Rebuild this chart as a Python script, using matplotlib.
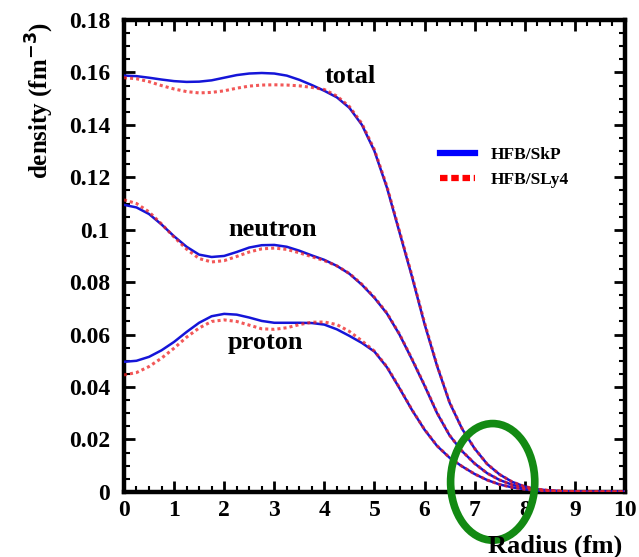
import numpy as np
import matplotlib
matplotlib.use("Agg")
import matplotlib.pyplot as plt
from matplotlib.lines import Line2D
from matplotlib.patches import Ellipse
from matplotlib.ticker import MultipleLocator

plt.rcParams['font.family'] = ['Liberation Serif', 'DejaVu Serif']
plt.rcParams['font.weight'] = 'bold'
plt.rcParams['mathtext.default'] = 'bf'

# radius grid (fm), values every 0.25 fm
radius = np.arange(0, 10.01, 0.25)

total_skp = [0.1588, 0.1586, 0.1580, 0.1573, 0.1567, 0.1564, 0.1565, 0.1570, 0.1580, 0.1590,
             0.1596, 0.1598, 0.1596, 0.1588, 0.1572, 0.1552, 0.1530, 0.1505, 0.1465, 0.1400,
             0.1300, 0.1160, 0.0990, 0.0820, 0.0640, 0.0480, 0.0340, 0.0240, 0.0165, 0.0106,
             0.0066, 0.0038, 0.0020, 0.0010, 0.0005, 0.0002, 0.0001, 0.0, 0.0, 0.0, 0.0]
total_sly4 = [0.1580, 0.1576, 0.1565, 0.1550, 0.1537, 0.1527, 0.1522, 0.1524, 0.1530, 0.1540,
              0.1548, 0.1552, 0.1553, 0.1552, 0.1549, 0.1543, 0.1535, 0.1510, 0.1470, 0.1405,
              0.1305, 0.1165, 0.0995, 0.0825, 0.0645, 0.0483, 0.0342, 0.0241, 0.0165, 0.0106,
              0.0066, 0.0038, 0.0020, 0.0010, 0.0005, 0.0002, 0.0001, 0.0, 0.0, 0.0, 0.0]

neutron_skp = [0.1095, 0.1085, 0.1060, 0.1020, 0.0975, 0.0935, 0.0905, 0.0896, 0.0900, 0.0915,
               0.0932, 0.0941, 0.0942, 0.0935, 0.0920, 0.0902, 0.0885, 0.0862, 0.0832, 0.0790,
               0.0740, 0.0680, 0.0600, 0.0505, 0.0405, 0.0300, 0.0215, 0.0155, 0.0108, 0.0071,
               0.0045, 0.0027, 0.0015, 0.0008, 0.0004, 0.0002, 0.0001, 0.0, 0.0, 0.0, 0.0]
neutron_sly4 = [0.1114, 0.1100, 0.1068, 0.1022, 0.0972, 0.0926, 0.0890, 0.0877, 0.0882, 0.0898,
                0.0915, 0.0927, 0.0930, 0.0925, 0.0912, 0.0897, 0.0882, 0.0862, 0.0833, 0.0792,
                0.0742, 0.0682, 0.0602, 0.0507, 0.0407, 0.0302, 0.0216, 0.0155, 0.0108, 0.0071,
                0.0045, 0.0027, 0.0015, 0.0008, 0.0004, 0.0002, 0.0001, 0.0, 0.0, 0.0, 0.0]

proton_skp = [0.0496, 0.0500, 0.0515, 0.0540, 0.0572, 0.0610, 0.0645, 0.0670, 0.0679, 0.0676,
              0.0665, 0.0652, 0.0645, 0.0645, 0.0645, 0.0644, 0.0638, 0.0620, 0.0595, 0.0568,
              0.0535, 0.0475, 0.0395, 0.0312, 0.0237, 0.0175, 0.0130, 0.0097, 0.0068, 0.0045,
              0.0028, 0.0017, 0.0010, 0.0005, 0.0003, 0.0001, 0.0, 0.0, 0.0, 0.0, 0.0]
proton_sly4 = [0.0446, 0.0455, 0.0478, 0.0510, 0.0548, 0.0590, 0.0625, 0.0650, 0.0656, 0.0650,
               0.0636, 0.0622, 0.0620, 0.0626, 0.0638, 0.0647, 0.0648, 0.0638, 0.0612, 0.0576,
               0.0537, 0.0477, 0.0397, 0.0313, 0.0238, 0.0176, 0.0130, 0.0097, 0.0068, 0.0045,
               0.0028, 0.0017, 0.0010, 0.0005, 0.0003, 0.0001, 0.0, 0.0, 0.0, 0.0, 0.0]

series_labels = ['HFB/SkP', 'HFB/SLy4']
curve_names = ['total', 'neutron', 'proton']
name_pos = [(4.52, 0.1585), (2.96, 0.100), (2.82, 0.0568)]

fig = plt.figure(figsize=(6.39, 5.57), dpi=100)
ax = fig.add_axes([0.194, 0.117, 0.784, 0.847])

blue = '#1515d8'
red = '#ee2020'
for skp, sly in [(total_skp, total_sly4), (neutron_skp, neutron_sly4), (proton_skp, proton_sly4)]:
    ax.plot(radius, skp, color=blue, lw=1.8, zorder=3)
    ax.plot(radius, sly, color=red, lw=2.2, ls=(0, (1, 1)), alpha=0.75, zorder=4)

for name, (xx, yy) in zip(curve_names, name_pos):
    ax.text(xx, yy, name, fontsize=19, fontweight='bold', ha='center', va='center')

handles = [Line2D([], [], color='#0000ff', lw=4.5),
           Line2D([], [], color='#ff0000', lw=4.5, ls=(0, (1.2, 0.6)))]
ax.legend(handles, series_labels, loc='upper left', bbox_to_anchor=(0.6, 0.764),
          frameon=False, handlelength=2.0, handletextpad=0.9, labelspacing=0.5,
          prop={'weight': 'bold', 'size': 12.5})

ax.set_xlim(0, 10)
ax.set_ylim(0, 0.18)
ax.set_xticks(range(0, 11))
ax.set_yticks(np.arange(0, 0.181, 0.02))
ax.set_yticklabels(['0', '0.02', '0.04', '0.06', '0.08', '0.1', '0.12', '0.14', '0.16', '0.18'])
ax.xaxis.set_minor_locator(MultipleLocator(0.25))
ax.yaxis.set_minor_locator(MultipleLocator(0.005))
ax.tick_params(which='both', direction='in', top=True, right=True, labelsize=17)
ax.tick_params(axis='y', which='major', pad=10)
ax.tick_params(axis='x', which='major', pad=6)
ax.tick_params(which='major', length=8, width=2)
ax.tick_params(which='minor', length=4, width=1.5)
for lbl in ax.get_xticklabels() + ax.get_yticklabels():
    lbl.set_fontweight('bold')
for sp in ax.spines.values():
    sp.set_linewidth(3.2)

fig.text(40 / 639, 1 - 100 / 557, 'density (fm$^{-3}$)', fontsize=18, fontweight='bold',
         rotation=90, ha='center', va='center')
fig.text(555 / 639, 1 - 546 / 557, 'Radius (fm)', fontsize=19, fontweight='bold',
         ha='center', va='center')

ell = Ellipse((7.36, 0.0038), 1.68, 0.0445, fill=False, edgecolor='#138a13', lw=5.5,
              clip_on=False, zorder=6)
ax.add_patch(ell)

fig.savefig('out.png', dpi=100)
